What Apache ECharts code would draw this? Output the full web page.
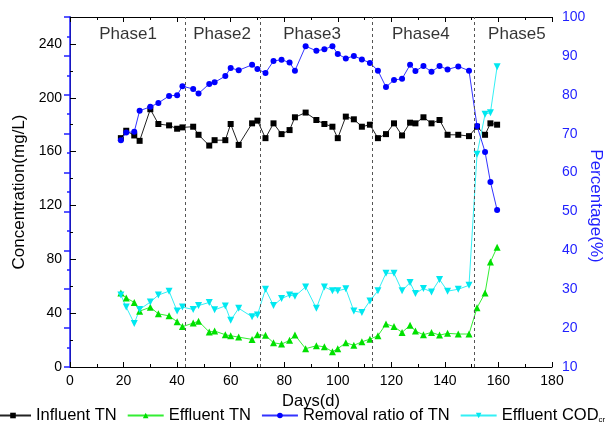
<!DOCTYPE html>
<html>
<head>
<meta charset="utf-8">
<script src="https://cdn.jsdelivr.net/npm/echarts@6/dist/echarts.min.js"></script>
<style>
html, body { margin: 0; padding: 0; background: #fff; }
#chart { width: 606px; height: 428px; }
</style>
</head>
<body>
<div id="chart"></div>
<script>
// Sampling days of the reactor run
const days = [19, 21, 24, 26, 30, 33, 37, 40, 42, 46, 48, 52, 54, 58, 60, 63, 68, 70,
  73, 76, 79, 82, 84, 88, 92, 95, 98, 100, 103, 106, 109, 112,
  115, 118, 121, 124, 127, 129, 132, 135, 138, 141, 145, 149,
  152, 155, 157, 159.5];

// Concentrations (mg/L)
const influentTN = [170, 175.5, 172, 168, 191.5, 180.5, 179.5, 177, 178, 178.5, 172.5, 164.5, 168.5, 168.5, 180.5, 165, 181, 183,
  170, 181, 173, 176, 185.5, 189, 183.5, 180.5, 178.5, 170, 186, 184, 178.5, 180,
  170, 173, 181, 172, 181.5, 181, 185.5, 181, 183.5, 172.5, 172.5, 171.5,
  178.5, 172.5, 181, 180];
const effluentTN = [55, 51.3, 48, 41.5, 44.4, 39.5, 38, 33.6, 30, 32.6, 34, 26, 26.7, 24, 23.2, 22.2, 20.5, 24,
  23.5, 18, 17, 19.8, 23.7, 13.6, 15.8, 15, 11.3, 13.6, 18, 16.1, 18.7, 20.7,
  23.2, 32, 30, 25.7, 31, 26.7, 24, 25.7, 23.7, 25, 24.5, 24.5,
  44, 55, 78, 89];

// Percentages (%)
const removalTN = [68.3, 70.3, 70.5, 75.9, 76.9, 77.9, 79.7, 79.9, 82.2, 81.5, 80.3, 82.8, 83.2, 84.8, 86.9, 86.3, 87.7, 86.6,
  85.6, 88.7, 89, 88.3, 86.2, 92.5, 91.3, 91.7, 92.5, 90.5, 89.3, 90, 89.1, 88.2,
  86.2, 82, 83.8, 84.1, 87.7, 86.1, 87.4, 85.9, 87.4, 86.5, 87.3, 86.2,
  72, 65.3, 57.6, 50.4];
const effluentCOD = [28.5, 25.4, 21.2, 24.8, 26.7, 28.5, 29.5, 24.4, 25.4, 24.8, 25.8, 26.6, 24.7, 25.7, 22, 25.1, 22.9, 23.4,
  30, 25.8, 27.6, 28.5, 28.2, 30.6, 25.1, 30.6, 29.6, 29.6, 30.1, 24.4, 24, 27,
  29.6, 34.1, 34.1, 29.6, 31.7, 28.9, 30.2, 29.3, 32.5, 29.5, 30, 31,
  64.7, 75, 75.4, 87.2];

// Phase boundaries (day) and phase captions
const phaseBounds = [43, 71, 113, 151];
const phaseNames = ['Phase1', 'Phase2', 'Phase3', 'Phase4', 'Phase5'];
const phaseLabelDays = [21.7, 56.8, 90.4, 131, 166.9];
const phaseLabelLevel = 247;

const seriesNames = ['Influent TN', 'Effluent TN', 'Removal ratio of TN', 'Effluent CODcr'];

const pair = (vals) => days.map((d, i) => [d, vals[i]]);
const FONT = 'Liberation Sans, Arial, sans-serif';
const BLUE = '#1f1fff';

const chart = echarts.init(document.getElementById('chart'), null, { renderer: 'canvas' });

const xAxisBase = {
  type: 'value', min: 0, max: 180, interval: 20,
  axisLine: { show: true, lineStyle: { color: '#000', width: 1 } },
  axisTick: { show: true, inside: true, length: 5, lineStyle: { color: '#000' } },
  minorTick: { show: true, splitNumber: 2, length: 3, lineStyle: { color: '#000' } },
  splitLine: { show: false }
};

chart.setOption({
  animation: false,
  backgroundColor: '#fff',
  textStyle: { fontFamily: FONT },
  grid: { left: 70, right: 54, top: 17, bottom: 61, outerBoundsMode: 'none', containLabel: false },
  legend: {
    data: seriesNames,
    left: -11, top: 402, width: 900,
    itemWidth: 36, itemHeight: 7, itemGap: 10,
    textStyle: {
      fontFamily: FONT, fontSize: 16.5, color: '#000',
      rich: { sub: { fontSize: 8, verticalAlign: 'bottom', padding: [9, 0, 0, 0], fontFamily: FONT, color: '#000' } }
    },
    formatter: (name) => name === 'Effluent CODcr' ? 'Effluent COD{sub|cr}' : name
  },
  // Right-hand axis title, reading top to bottom
  graphic: [{
    type: 'text', x: 596, y: 206, rotation: -Math.PI / 2, silent: true,
    style: {
      text: 'Percentage(%)', fill: BLUE,
      font: '17px "Liberation Sans", Arial, sans-serif',
      align: 'center', verticalAlign: 'middle'
    }
  }],
  xAxis: [
    Object.assign({}, xAxisBase, {
      position: 'bottom',
      name: 'Days(d)', nameLocation: 'middle', nameGap: 17,
      nameTextStyle: { fontFamily: FONT, fontSize: 16.5, color: '#000' },
      axisLabel: { fontFamily: FONT, fontSize: 14, color: '#000', margin: 7 }
    }),
    Object.assign({}, xAxisBase, {
      position: 'top',
      axisLabel: { show: false }
    })
  ],
  yAxis: [
    {
      type: 'value', position: 'left', min: 0, max: 260, interval: 40,
      name: 'Concentration(mg/L)', nameLocation: 'middle', nameGap: 41, nameRotate: 90,
      nameTextStyle: { fontFamily: FONT, fontSize: 17, color: '#000' },
      axisLine: { show: true, lineStyle: { color: '#000', width: 1 } },
      axisTick: { show: true, inside: true, length: 6, lineStyle: { color: '#000' } },
      minorTick: { show: true, splitNumber: 2, length: 3, lineStyle: { color: '#000' } },
      axisLabel: { fontFamily: FONT, fontSize: 14, color: '#000', margin: 8, showMaxLabel: false },
      splitLine: { show: false }
    },
    {
      type: 'value', position: 'right', min: 10, max: 100, interval: 10,
      axisLine: { show: true, lineStyle: { color: BLUE, width: 1.5 } },
      axisTick: { show: true, inside: true, length: 6, lineStyle: { color: BLUE, width: 1.5 } },
      minorTick: { show: true, splitNumber: 2, length: 3, lineStyle: { color: BLUE, width: 1.5 } },
      axisLabel: { fontFamily: FONT, fontSize: 14, color: BLUE, margin: 10 },
      splitLine: { show: false }
    }
  ],
  series: [
    {
      name: 'Influent TN', type: 'line', xAxisIndex: 0, yAxisIndex: 0,
      data: pair(influentTN),
      symbol: 'rect', symbolSize: 6,
      itemStyle: { color: '#000' },
      lineStyle: { color: '#222', width: 1 },
      markLine: {
        silent: true, symbol: 'none', label: { show: false },
        lineStyle: { color: '#555', type: [3, 3], width: 1 },
        data: phaseBounds.map((d) => ({ xAxis: d }))
      },
      z: 3
    },
    {
      name: 'Effluent TN', type: 'line', xAxisIndex: 0, yAxisIndex: 0,
      data: pair(effluentTN),
      symbol: 'triangle', symbolSize: 7,
      itemStyle: { color: '#00e000' },
      lineStyle: { color: '#33ee33', width: 1 },
      z: 3
    },
    {
      name: 'Removal ratio of TN', type: 'line', xAxisIndex: 0, yAxisIndex: 1,
      data: pair(removalTN),
      symbol: 'circle', symbolSize: 6,
      itemStyle: { color: '#0000ff' },
      lineStyle: { color: '#3333ff', width: 1 },
      z: 4
    },
    {
      name: 'Effluent CODcr', type: 'line', xAxisIndex: 0, yAxisIndex: 1,
      data: pair(effluentCOD),
      symbol: 'triangle', symbolRotate: 180, symbolSize: 7,
      itemStyle: { color: '#00e8f0' },
      lineStyle: { color: '#33f0f5', width: 1 },
      z: 3
    },
    {
      name: 'phases', type: 'scatter', xAxisIndex: 0, yAxisIndex: 0,
      data: phaseNames.map((n, i) => [phaseLabelDays[i], phaseLabelLevel, n]),
      symbolSize: 0, silent: true,
      label: {
        show: true, position: 'inside', formatter: (p) => p.value[2],
        fontFamily: FONT, fontSize: 17, color: '#000'
      }
    }
  ]
});
</script>
</body>
</html>
